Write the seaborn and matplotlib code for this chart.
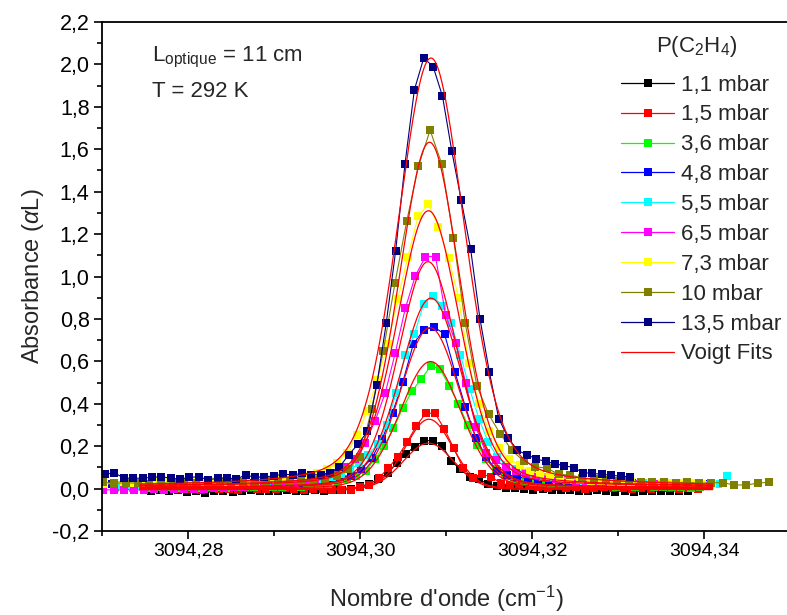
import numpy as np
import pandas as pd
import matplotlib
matplotlib.use('Agg')
import matplotlib.pyplot as plt
import seaborn as sns
from matplotlib import font_manager
from matplotlib.lines import Line2D
from matplotlib.ticker import MultipleLocator, FuncFormatter

# wavenumbers are stored as offsets in 1e-5 cm-1 above 3094.27 cm-1
X_REF = 3094.27

pressures = ['1,1 mbar', '1,5 mbar', '3,6 mbar', '4,8 mbar', '5,5 mbar',
             '6,5 mbar', '7,3 mbar', '10 mbar', '13,5 mbar']
colors = ['#000000', '#FF0000', '#00FF00', '#0000FF', '#00FFFF',
          '#FF00FF', '#FFFF00', '#808000', '#000080']

x_11 = [563, 669, 775, 881, 987, 1093, 1199, 1305, 1411, 1517, 1623, 1729, 1835, 1941, 2047,
        2153, 2259, 2365, 2471, 2577, 2683, 2789, 2895, 3001, 3107, 3213, 3319, 3425, 3531, 3637,
        3743, 3849, 3955, 4061, 4167, 4273, 4379, 4485, 4591, 4697, 4803, 4909, 5015, 5121, 5227,
        5333, 5439, 5545, 5651, 5757, 5863, 5969, 6075, 6181, 6287, 6393, 6499, 6605, 6711, 6817]
y_11 = [-0.010, -0.008, -0.012, -0.009, -0.014, -0.011, -0.019, -0.013, -0.010, -0.015,
        -0.012, -0.009, -0.013, -0.010, -0.011, -0.008, -0.012, -0.010, -0.009, -0.011,
        -0.008, -0.005, 0.0, 0.01, 0.022, 0.045, 0.072, 0.12, 0.165, 0.198,
        0.226, 0.226, 0.202, 0.13, 0.09, 0.056, 0.044, 0.022, 0.012, 0.005,
        0.001, -0.003, -0.005, -0.003, -0.007, -0.008, -0.006, -0.01, -0.012, -0.009,
        -0.013, -0.015, -0.012, -0.015, -0.011, -0.013, -0.01, -0.012, -0.01, -0.011]

x_15 = [493, 602, 711, 820, 929, 1038, 1147, 1256, 1365, 1474, 1583, 1692, 1801, 1910, 2019,
        2128, 2237, 2346, 2455, 2564, 2673, 2782, 2891, 3000, 3109, 3218, 3327, 3436, 3545, 3654,
        3763, 3872, 3981, 4090, 4199, 4308, 4417, 4526, 4635, 4744, 4853, 4962, 5071, 5180, 5289,
        5398, 5507, 5616, 5725, 5834, 5943, 6052, 6161, 6270, 6379, 6488, 6597, 6706, 6815, 6924]
y_15 = [0.005, 0.000, -0.003, 0.002, -0.004, 0.000, -0.005, 0.003, -0.002, 0.000,
        -0.006, 0.002, -0.003, 0.000, -0.004, 0.003, -0.002, -0.005, 0.000, -0.003,
        -0.007, -0.005, -0.007, 0.009, 0.018, 0.05, 0.096, 0.15, 0.218, 0.295,
        0.355, 0.355, 0.28, 0.19, 0.096, 0.049, 0.067, 0.056, 0.025, 0.017,
        0.02, 0.01, 0.008, 0.005, 0.01, 0.003, 0.006, 0.0, 0.004, 0.008,
        0.002, 0.005, -0.002, 0.004, 0.0, 0.006, 0.002, -0.003, 0.003, 0.0]

x_36 = [148, 256, 364, 472, 580, 688, 796, 904, 1012, 1120, 1228, 1336, 1444, 1552, 1660, 1768,
        1876, 1984, 2092, 2200, 2308, 2416, 2524, 2632, 2740, 2848, 2956, 3064, 3172, 3280, 3388,
        3496, 3604, 3712, 3820, 3928, 4036, 4144, 4252, 4360, 4468, 4576, 4684, 4792, 4900, 5008,
        5116, 5224, 5332, 5440, 5548, 5656, 5764, 5872, 5980, 6088, 6196, 6304, 6412, 6520, 6628,
        6736, 6844, 6952]
y_36 = [0.005, 0.008, 0.004, 0.007, 0.003, 0.006, 0.009, 0.005, 0.007, 0.004, 0.008, 0.006,
        0.005, 0.009, 0.007, 0.006, 0.010, 0.008, 0.007, 0.011, 0.009, 0.012, 0.015, 0.020,
        0.03, 0.045, 0.06, 0.085, 0.138, 0.201, 0.284, 0.379, 0.46, 0.517,
        0.577, 0.566, 0.484, 0.398, 0.30, 0.206, 0.14, 0.09, 0.06, 0.045,
        0.035, 0.03, 0.025, 0.02, 0.018, 0.015, 0.012, 0.014, 0.01, 0.012,
        0.009, 0.011, 0.008, 0.01, 0.007, 0.009, 0.006, 0.008, 0.005, 0.007]

x_48 = [110, 231, 352, 473, 594, 715, 836, 957, 1078, 1199, 1320, 1441, 1562, 1683, 1804, 1925,
        2046, 2167, 2288, 2409, 2530, 2651, 2772, 2893, 3014, 3135, 3256, 3377, 3498, 3619, 3740,
        3861, 3982, 4103, 4224, 4345, 4466, 4587, 4708, 4829, 4950, 5071, 5192, 5313, 5434, 5555,
        5676, 5797, 5918, 6039, 6160, 6281, 6402, 6523, 6644, 6765, 6886, 7007]
y_48 = [0.020, 0.015, 0.018, 0.022, 0.017, 0.020, 0.016, 0.021, 0.018, 0.023, 0.019, 0.022,
        0.020, 0.025, 0.021, 0.024, 0.022, 0.026, 0.028, 0.030,
        0.035, 0.045, 0.055, 0.06, 0.09, 0.143, 0.233, 0.358, 0.504, 0.682,
        0.748, 0.761, 0.729, 0.549, 0.386, 0.24, 0.15, 0.084, 0.065, 0.055,
        0.048, 0.042, 0.038, 0.035, 0.032, 0.03, 0.028, 0.025, 0.026, 0.023,
        0.024, 0.022, 0.02, 0.021, 0.019, 0.02, 0.018, 0.02]

x_55 = [208, 315, 422, 529, 636, 743, 850, 957, 1064, 1171, 1278, 1385, 1492, 1599, 1706, 1813,
        1920, 2027, 2134, 2241, 2348, 2455, 2562, 2669, 2776, 2883, 2990, 3097, 3204, 3311, 3418,
        3525, 3632, 3739, 3846, 3953, 4060, 4167, 4274, 4381, 4488, 4595, 4702, 4809, 4916, 5023,
        5130, 5237, 5344, 5451, 5558, 5665, 5772, 5879, 5986, 6093, 6200, 6307, 6414, 6521, 6628,
        6735, 6842, 6949, 7056, 7163, 7270]
y_55 = [0.015, 0.012, 0.018, 0.014, 0.016, 0.012, 0.017, 0.015, 0.013, 0.018, 0.016, 0.014,
        0.019, 0.017, 0.015, 0.020, 0.018, 0.022, 0.024, 0.028,
        0.032, 0.038, 0.045, 0.055, 0.07, 0.09, 0.12, 0.16, 0.21, 0.30,
        0.45, 0.63, 0.73, 0.87, 0.91, 0.86, 0.78, 0.63, 0.47, 0.33,
        0.22, 0.15, 0.11, 0.09, 0.075, 0.065, 0.055, 0.05, 0.045, 0.04,
        0.035, 0.033, 0.03, 0.028, 0.026, 0.025, 0.023, 0.024, 0.021, 0.022,
        0.02, 0.021, 0.019, 0.02, 0.018, 0.02, 0.06]

x_65 = [16, 133, 250, 367, 484, 601, 718, 835, 952, 1069, 1186, 1303, 1420, 1537, 1654, 1771,
        1888, 2005, 2122, 2239, 2356, 2473, 2590, 2707, 2824, 2941, 3058, 3175, 3292, 3409, 3526,
        3643, 3760, 3877, 3994, 4111, 4228, 4345, 4462, 4579, 4696, 4813, 4930, 5047, 5164, 5281,
        5398, 5515, 5632, 5749, 5866, 5983, 6100, 6217, 6334, 6451, 6568, 6685, 6802, 6919, 7036]
y_65 = [-0.005, -0.007, -0.006, -0.005, -0.007, -0.004, -0.005, -0.003, -0.004, -0.002,
        0.000, 0.002, 0.004, 0.006, 0.008, 0.010, 0.013, 0.017, 0.022,
        0.028, 0.034, 0.042, 0.055, 0.075, 0.10, 0.14, 0.215, 0.32, 0.45,
        0.64, 0.85, 1.004, 1.094, 1.094, 0.819, 0.688, 0.50, 0.29, 0.17,
        0.135, 0.10, 0.082, 0.07, 0.062, 0.05, 0.045, 0.04, 0.035, 0.03,
        0.028, 0.025, 0.022, 0.02, 0.022, 0.018, 0.02, 0.016, 0.018, 0.015,
        0.016, 0.014]

x_73 = [16, 134, 252, 370, 488, 606, 724, 842, 960, 1078, 1196, 1314, 1432, 1550, 1668, 1786,
        1904, 2022, 2140, 2258, 2376, 2494, 2612, 2730, 2848, 2966, 3084, 3202, 3320, 3438, 3556,
        3674, 3792, 3910, 4028, 4146, 4264, 4382, 4500, 4618, 4736, 4854, 4972, 5090, 5208, 5326,
        5444, 5562, 5680, 5798, 5916, 6034, 6152, 6270, 6388, 6506, 6624, 6742, 6860, 6978, 7096]
y_73 = [0.020, 0.025, 0.030, 0.028, 0.025, 0.030, 0.032, 0.028, 0.030, 0.033, 0.030, 0.035,
        0.032, 0.030, 0.035, 0.038, 0.036, 0.040,
        0.045, 0.05, 0.06, 0.075, 0.09, 0.12, 0.17, 0.253, 0.367, 0.512,
        0.68, 0.893, 1.094, 1.283, 1.341, 1.235, 1.086, 0.90, 0.59, 0.40,
        0.27, 0.19, 0.14, 0.11, 0.085, 0.07, 0.06, 0.052, 0.047, 0.042,
        0.038, 0.035, 0.033, 0.030, 0.030, 0.028, 0.026, 0.027, 0.025, 0.024,
        0.025, 0.022, 0.022]

x_10 = [6, 142, 278, 414, 550, 686, 822, 958, 1094, 1230, 1366, 1502, 1638, 1774, 1910, 2046,
        2182, 2318, 2454, 2590, 2726, 2862, 2998, 3134, 3270, 3406, 3542, 3678, 3814, 3950, 4086,
        4222, 4358, 4494, 4630, 4766, 4902, 5038, 5174, 5310, 5446, 5582, 5718, 5854, 5990, 6126,
        6262, 6398, 6534, 6670, 6806, 6942, 7078, 7214, 7350, 7486, 7622, 7758]
y_10 = [0.030, 0.025, 0.028, 0.025, 0.022, 0.027, 0.025, 0.030, 0.028, 0.024, 0.030, 0.027,
        0.032, 0.030, 0.035, 0.033, 0.036, 0.038, 0.040,
        0.045, 0.058, 0.09, 0.15, 0.375, 0.65, 0.97, 1.26, 1.52, 1.69,
        1.53, 1.18, 0.78, 0.485, 0.35, 0.258, 0.18, 0.13, 0.103, 0.096,
        0.067, 0.064, 0.05, 0.044, 0.04, 0.037, 0.035, 0.033, 0.03, 0.033,
        0.028, 0.03, 0.025, 0.028, 0.028, 0.017, 0.017, 0.025, 0.031]

x_135 = [34, 143, 252, 361, 470, 579, 688, 797, 906, 1015, 1124, 1233, 1342, 1451, 1560, 1669,
         1778, 1887, 1996, 2105, 2214, 2323, 2432, 2541, 2650, 2759, 2868, 2977, 3086, 3195, 3304,
         3413, 3522, 3631, 3740, 3849, 3958, 4067, 4176, 4285, 4394, 4503, 4612, 4721, 4830, 4939,
         5048, 5157, 5266, 5375, 5484, 5593, 5702, 5811, 5920, 6029, 6138]
y_135 = [0.067, 0.075, 0.049, 0.049, 0.049, 0.053, 0.056, 0.049, 0.045, 0.053, 0.056, 0.041,
         0.049, 0.051, 0.045, 0.064, 0.053, 0.056, 0.059, 0.069, 0.064, 0.072,
         0.066, 0.064, 0.075, 0.10, 0.16, 0.21, 0.27, 0.49, 0.78, 1.12,
         1.53, 1.88, 2.03, 1.99, 1.85, 1.59, 1.36, 1.13, 0.80, 0.55,
         0.33, 0.24, 0.18, 0.16, 0.14, 0.128, 0.117, 0.108, 0.099, 0.075,
         0.072, 0.067, 0.063, 0.058, 0.056]

# Voigt fit parameters (same order as pressures)
fit_center = [3094.30795, 3094.30801, 3094.30819, 3094.30813, 3094.30824,
              3094.30790, 3094.30795, 3094.30807, 3094.30824]
fit_peak = [0.214, 0.327, 0.599, 0.759, 0.898, 1.07, 1.31, 1.633, 2.03]
fit_hwhm = [0.00349, 0.0032, 0.00419, 0.00407, 0.00419, 0.00407, 0.0043, 0.00419, 0.00465]
fit_eta = [0.05, 0.06, 0.13, 0.16, 0.18, 0.2, 0.22, 0.25, 0.3]
fit_base = [-0.005, 0.0, 0.0, 0.005, 0.005, 0.0, 0.01, 0.01, 0.01]
fit_range = (3094.2744, 3094.3410)

series_x = [x_11, x_15, x_36, x_48, x_55, x_65, x_73, x_10, x_135]
series_y = [y_11, y_15, y_36, y_48, y_55, y_65, y_73, y_10, y_135]

rows = []
for lab, xs, ys in zip(pressures, series_x, series_y):
    for u, v in zip(xs, ys):
        rows.append((X_REF + u * 1e-5, v, lab))
df = pd.DataFrame(rows, columns=['wn', 'abs', 'P'])

sns.set_style('ticks')
avail = {f.name for f in font_manager.fontManager.ttflist}
base_font = 'Liberation Sans' if 'Liberation Sans' in avail else 'DejaVu Sans'
plt.rcParams['font.family'] = [base_font, 'DejaVu Sans']
plt.rcParams['mathtext.fontset'] = 'custom'
plt.rcParams['mathtext.rm'] = base_font
plt.rcParams['mathtext.it'] = base_font + ':italic'

W, H = 787, 615
fig = plt.figure(figsize=(W / 100, H / 100), dpi=100)
ax = fig.add_axes([102.1 / W, (H - 531) / H, 688 / W, 509 / H])

sns.lineplot(data=df, x='wn', y='abs', hue='P', hue_order=pressures, palette=colors,
             estimator=None, sort=False, marker='s', markersize=5.6, markeredgewidth=0,
             linewidth=0.8, legend=False, ax=ax)

xf = np.linspace(fit_range[0], fit_range[1], 900)
for c, h, w, eta, b in zip(fit_center, fit_peak, fit_hwhm, fit_eta, fit_base):
    u = (xf - c) / w
    prof = eta / (1 + u ** 2) + (1 - eta) * np.exp(-np.log(2) * u ** 2)
    ax.plot(xf, b + (h - b) * prof, color='#FF0000', lw=0.9, zorder=5)

ax.set_xlim(3094.27, 3094.35)
ax.set_ylim(-0.2, 2.2)
ax.xaxis.set_major_locator(MultipleLocator(0.02))
ax.xaxis.set_minor_locator(MultipleLocator(0.01))
ax.yaxis.set_major_locator(MultipleLocator(0.2))
ax.yaxis.set_minor_locator(MultipleLocator(0.1))
ax.xaxis.set_major_formatter(FuncFormatter(lambda v, p: f'{v:.2f}'.replace('.', ',')))
ax.yaxis.set_major_formatter(FuncFormatter(
    lambda v, p: ('0,0' if abs(v) < 1e-9 else f'{v:.1f}'.replace('.', ','))))
ax.tick_params(which='both', direction='out', width=1.2, top=False, right=False, colors='black')
ax.tick_params(which='major', length=6)
ax.tick_params(which='minor', length=3.5)
ax.tick_params(axis='y', labelsize=15.5, pad=3)
ax.tick_params(axis='x', labelsize=14, pad=2)
for sp in ax.spines.values():
    sp.set_linewidth(1.3)
    sp.set_color('black')

ax.set_xlabel("Nombre d'onde (cm$^{-1}$)", fontsize=17, va='top')
ax.xaxis.set_label_coords(0.5, -0.104)
ax.set_ylabel('Absorbance ($\\alpha$L)', fontsize=17)
ax.yaxis.set_label_coords(-0.082, 0.5)

fig.text(152 / W, (H - 61) / H, 'L$_{\\mathrm{optique}}$ = 11 cm', fontsize=16, va='baseline')
fig.text(152 / W, (H - 97) / H, 'T = 292 K', fontsize=16, va='baseline')

# legend title placed on its own so the gap to the first entry matches
fig.text(697 / W, (H - 52) / H, 'P(C$_2$H$_4$)', fontsize=16, ha='center', va='baseline')
handles = [Line2D([], [], color=c, lw=0.9, marker='s', markersize=5.6, markeredgewidth=0)
           for c in colors]
handles.append(Line2D([], [], color='#FF0000', lw=0.9))
leg = fig.legend(handles, pressures + ['Voigt Fits'], loc='upper left',
                 bbox_to_anchor=(621 / W, (H - 74.5) / H), frameon=False, fontsize=16,
                 handlelength=2.4, handletextpad=0.3, labelspacing=0.40,
                 borderpad=0, borderaxespad=0)

fig.savefig('out.png', dpi=100)
